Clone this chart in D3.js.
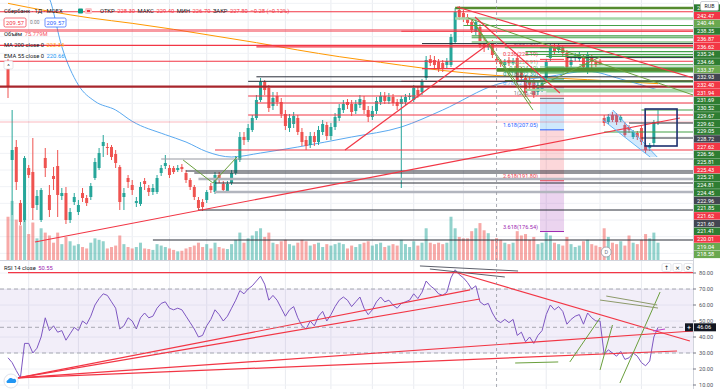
<!DOCTYPE html>
<html>
<head>
<meta charset="utf-8">
<script src="https://cdn.jsdelivr.net/npm/d3@7"></script>
<style>
  body { margin: 0; background: #fff; }
  svg { display: block; font-family: Roboto, "Noto Sans", sans-serif; }
</style>
</head>
<body>
<div id="chart"></div>
<script>
// daily candles, [open, high, low, close]
const candles = [
  [226.2,228.3,216.6,220.2],[198.0,213.0,181.5,201.0],[201.9,204.0,189.0,191.4],[185.1,186.0,178.5,179.4],
  [180.0,199.2,179.4,198.6],[195.6,196.5,192.6,193.5],[194.4,204.6,180.0,183.6],[184.5,189.0,183.0,187.2],
  [180.0,189.6,179.4,189.0],[198.6,201.6,192.9,195.6],[187.5,190.5,180.9,183.0],[193.2,195.9,189.0,192.3],
  [196.2,201.0,180.9,187.5],[187.2,189.6,186.0,188.1],[188.1,189.9,178.8,180.0],[180.0,183.6,179.1,182.4],
  [185.4,188.1,184.5,186.9],[182.4,186.0,181.5,184.5],[188.1,189.6,185.4,186.6],[186.6,187.5,184.2,185.1],
  [186.9,191.1,186.0,190.2],[192.6,198.6,192.0,197.4],[195.6,201.6,195.0,200.1],[202.2,205.5,198.9,203.4],
  [201.9,203.1,199.5,201.6],[201.9,202.5,198.0,198.9],[199.8,201.0,195.6,197.1],[195.9,196.5,183.0,185.4],
  [186.9,189.6,183.0,188.1],[192.6,193.5,189.6,191.4],[190.5,192.0,187.5,189.0],[185.1,186.9,183.9,185.7],
  [184.8,191.4,184.2,189.9],[191.7,192.6,189.0,190.8],[189.6,190.5,187.2,188.4],[188.4,190.8,187.5,189.6],
  [188.4,193.5,187.8,192.6],[194.1,196.5,193.2,195.6],[196.2,199.5,195.3,197.1],[195.6,196.5,192.6,193.5],
  [195.6,196.2,193.8,194.4],[195.0,196.5,194.4,195.6],[195.9,196.8,194.4,195.3],[194.1,195.0,191.1,192.0],
  [192.0,192.6,189.0,189.9],[189.9,190.5,186.0,186.9],[186.0,186.9,183.0,183.6],[185.4,186.3,182.7,183.9],
  [186.0,189.0,185.1,188.4],[190.2,191.1,188.1,189.0],[188.4,194.4,187.8,193.5],[193.5,194.4,191.1,192.0],
  [190.8,191.7,188.1,189.0],[188.7,191.7,188.1,190.8],[191.1,195.0,190.5,194.1],[194.1,199.2,193.5,198.3],
  [198.0,206.4,197.4,204.9],[204.9,206.4,202.5,204.0],[204.0,208.8,203.4,207.6],[207.0,211.5,206.4,210.6],
  [210.6,217.5,210.0,216.0],[216.0,222.6,215.4,221.4],[221.4,222.0,217.5,219.0],[219.6,220.5,212.4,213.6],
  [214.2,218.4,213.0,216.6],[217.2,218.4,214.2,215.4],[215.4,216.6,210.6,211.8],[211.8,213.0,207.0,208.2],
  [207.6,211.8,206.4,210.6],[208.8,212.4,207.6,211.2],[210.6,211.5,205.5,206.4],[206.4,207.6,202.2,203.4],
  [204.0,205.2,201.0,202.2],[202.5,206.4,201.6,205.2],[205.2,206.4,202.2,203.4],[203.4,208.2,202.5,207.0],
  [206.4,210.0,205.5,208.8],[208.5,209.4,204.0,205.2],[205.2,209.1,204.0,207.9],[207.9,212.1,207.0,210.9],
  [210.6,214.8,209.7,213.6],[213.0,216.0,212.1,214.8],[215.4,216.3,213.3,214.5],[214.8,216.0,211.2,212.4],
  [212.7,216.0,211.8,214.8],[214.5,217.5,213.6,216.3],[216.0,217.2,211.8,213.0],[213.0,214.2,209.4,210.9],
  [210.9,214.2,210.0,212.7],[212.7,216.9,211.8,215.7],[215.4,218.4,214.5,217.2],[217.2,218.4,214.8,215.7],
  [215.7,218.1,214.8,216.9],[216.9,217.8,214.2,215.1],[215.4,216.3,213.0,214.2],[214.8,217.2,189.6,216.3],
  [215.4,217.8,214.5,216.9],[216.9,218.1,216.0,217.2],[216.0,220.5,215.4,219.6],[219.0,219.9,216.6,217.5],
  [218.4,222.3,217.5,221.4],[222.6,229.2,222.0,228.0],[228.3,229.5,226.2,227.1],[228.0,229.2,225.6,226.5],
  [227.4,228.3,224.4,225.6],[227.1,228.0,224.4,225.3],[226.5,228.6,225.6,227.7],[226.5,235.8,225.9,234.9],
  [233.4,243.6,232.8,242.4],[243.0,244.2,240.0,240.9],[242.1,243.0,239.4,240.6],[240.9,241.8,238.2,239.1],
  [239.4,240.3,236.1,237.0],[236.4,240.3,235.5,239.4],[237.9,238.8,231.6,232.5],[233.4,234.6,230.4,231.9],
  [231.9,233.4,231.0,232.5],[233.1,234.0,228.6,229.5],[228.3,229.4,226.7,227.8],[227.4,228.3,225.9,226.8],
  [226.5,228.3,225.6,227.4],[228.0,228.9,226.2,227.1],[227.1,228.6,226.5,227.7],[228.6,229.5,220.5,221.4],
  [225.0,225.9,221.4,222.6],[222.6,223.5,216.9,218.1],[222.0,222.9,219.0,220.5],[221.4,222.3,216.6,217.5],
  [218.4,221.4,217.5,220.5],[219.0,222.0,218.4,221.1],[222.6,228.3,221.7,227.4],[228.6,233.1,227.7,231.9],
  [231.9,233.1,229.5,230.4],[231.0,233.4,230.1,232.5],[231.6,232.5,229.2,230.1],[230.1,231.0,225.0,225.9],
  [226.5,229.2,225.9,228.0],[228.6,230.1,227.7,229.4],[228.3,230.4,227.4,229.5],[228.9,229.8,225.0,225.9],
  [225.0,230.4,223.8,229.5],[228.9,229.8,225.6,227.4],[227.4,228.0,225.9,226.5],[227.4,228.3,226.5,226.8],
  [210.6,211.5,208.2,209.1],[209.4,211.8,208.8,210.9],[211.5,212.4,209.4,210.0],[211.5,212.1,208.5,209.4],
  [210.0,211.5,209.4,210.9],[208.5,209.4,204.9,205.5],[207.9,208.5,206.1,207.0],[204.9,207.0,204.3,206.4],
  [206.1,206.7,204.0,204.9],[207.6,208.2,202.5,203.4],[202.5,203.1,200.1,201.0],[201.6,203.1,200.7,202.5],
  [203.1,210.0,202.2,209.4],[209.2,213.0,208.5,209.57]
];

// volume, millions
const volumes = [
  150,205,140,120,160,90,130,75,110,95, 85,60,95,55,80,65,50,55,45,40,
  60,75,70,65,40,45,50,85,55,45, 40,45,60,40,38,35,55,50,45,40,
  35,30,32,40,45,50,60,45,55,40, 60,45,40,38,55,70,95,60,75,85,
  100,110,80,95,60,55,65,70,55,50, 60,70,65,50,55,60,45,55,50,55,
  60,55,40,50,45,55,60,65,50,55, 60,45,50,55,50,70,55,45,65,50,
  60,110,60,55,60,55,60,150,110,80, 75,75,100,110,128,103,93,70,75.779,70,
  60,55,60,100,85,90,70,80,55,60, 95,85,60,55,50,80,55,45,50,65,
  70,55,50,45,110,80,60,55,65,50, 85,60,55,70,90,75,95,60
];

// RSI 14
const rsi = [
  27,24,19,14.5,36,36,30,33,40,52, 44,47,43,44,38,42,46,44,50,48,
  53,60,64,67,66,62,58,45,47,52, 50,45,52,55,52,53,58,61,62,58,
  57,58,57,53,49,45,40,41,47,51, 57,54,50,53,58,63,69,67,70,72,
  75,78,73,63,66,63,58,53,57,59, 52,47,45,50,47,53,56,50,54,59,
  63,65,63,59,62,65,58,54,57,62, 65,62,63,60,58,61,62,63,67,64,
  68,75,72,70,67,66,68,77,82,79, 77,74,70,72,62,60,61,55,50.55,49,
  51,49,51,41,43,37,40,36,41,44, 54,60,57,59,56,48,51,53,54,48,
  55,52,50,50,29,32,30,28,31,26, 27,30,28,24,22,25,40,46
];

// moving averages read at points along the curves: [candle index, value]
const ma200 = [[0,245.0],[10,242.6],[20,240.6],[30,239.0],[40,237.2],[50,235.2],[60,233.2],[70,231.0],
  [80,229.0],[90,227.3],[100,225.6],[110,224.2],[118,223.34],[130,222.7],[140,222.1],[150,221.4],[157,220.9]];
const ema55 = [[8,250],[10,246.5],[13,232],[17,220.5],[21,215.6],[26,213],[30,209.6],[38,205.6],[43,203.4],
  [48,200.5],[54,198.9],[61,200.1],[70,201.9],[83,204.9],[95,207.9],[105,213],[118,220.66],[130,222.9],
  [140,224.6],[148,222.3],[157,219]];

// horizontal price lines with a label on the axis: [price, kind, first candle]
const levels = [
  [243.60,"dg",108],[242.47,"r",0],[240.44,"lg",108],[238.35,"g",110],[236.87,"rl",0],[236.62,"r",95],
  [235.24,"g",112],[234.66,"g",112],[233.37,"lg",112],[232.93,"d",100],[232.40,"r",0],[231.94,"r",60],
  [231.69,"g",120],[230.52,"g",125],[229.67,"g",125],[229.62,"g",130],[229.05,"g",130],[228.72,"d",135],
  [227.62,"r",0],[226.56,"g",138],[225.81,"g",130],[225.43,"r",100],[225.21,"dg",118],[224.81,"dg",118],
  [224.45,"g",120],[222.96,"d",60],[221.85,"g",120],[221.62,"r",95],[221.60,"d",58],[221.41,"g",125],
  [220.01,"rb",0],[219.04,"lg",125],[218.58,"lg",130]
];
// horizontal lines without axis label
const extraLevels = [
  [217.2,"r",58],[215.1,"r",60],[213.0,"g",153],[211.5,"r",58],[209.4,"p",0],[209.1,"d",150],
  [206.4,"g",144],[204.6,"d",153],[201.0,"r",50],[198.3,"gr",37],[194.7,"d",43],[194.1,"d",45],
  [192.3,"gl",46],[191.1,"d",50],[188.4,"gl",50],[183.0,"d",46],[174.0,"d",35]
];

// fib extension
const fibRatios = ["0","0.236","0.382","0.5","0.618","0.786","1","1.618","2.618","3.618"];
const fibPrices = [231.69,228.19,225.91,224.10,222.30,219.70,216.48,207.05,191.80,176.54];
const fibSpan = [128.5, 134.3];

// trend lines on price pane: [idx1, price1, idx2, price2, kind]
const trendLines = [
  [6.5,173.4,162.3,210.6,"r"],
  [108.5,243.9,165.5,222.6,"r"],
  [111.1,240.6,165.5,217.5,"g"],
  [112.8,240.9,133.3,218.1,"r"],
  [112.1,240.0,126.3,215.1,"g"],
  [112.8,238.5,126.8,213.0,"g"],
  [81.4,201.0,116.4,233.1,"r"],
  [42.3,198.0,49.5,191.1,"g"],
  [49.5,191.1,55.3,198.9,"g"],
  [127.8,219.9,143.0,228.9,"g"],
  [146.1,213.0,156.8,198.9,"b"],
  [143.7,210.0,155.1,198.9,"b"]
];
const wedge = [[146.1,213.0],[156.8,198.9],[155.1,198.9],[143.7,210.0]];
const box = [153.9,213.3,161.6,202.2];

// lines on RSI pane: [idx1, rsi1, idx2, rsi2, kind]
const rsiLines = [
  [0,80.2,170,80.2,"r"],
  [2.4,14.4,111.6,69.4,"r"],
  [2.4,14.4,114,63.75,"r"],
  [2.4,14.4,165.5,43.75,"r"],
  [2.4,14.4,161.6,31.25,"r"],
  [108,80.6,164.7,37.5,"r"],
  [99.5,84.4,123.2,81.25,"d"],
  [101.9,82.5,120,77.5,"d"],
  [122.5,23.75,132.9,24.4,"g"],
  [135.7,24.4,143,51.9,"g"],
  [143,19.4,146,47.5,"g"],
  [147.8,11.25,157.5,68.1,"g"],
  [143,63.1,157,58.1,"o"],
  [144.5,65.6,156.8,60,"o"],
  [155.8,43.75,158.7,45,"m"]
];

const gridIdx = [5,17,30,39,48,58,67,78,88,98,110,130,143,153];
const rsiTicks = [80,70,60,50,40,30,20,10];
const crossIdx = 118;
const crossRsi = 46.06;
const lastPrice = 209.57;
const dividendIdx = 144;
const changeText = "−0.28 (−0.12%)";

// ---- layout ----
const W = 720, H = 389;
const plotR = 693, mainB = 260, rsiT = 261;

const x = d3.scaleLinear().domain([0, 157]).range([8, 658]);
const yP = d3.scaleLinear().domain([167.4, 246]).range([262, 0]);
const yV = d3.scaleLinear().domain([0, 215]).range([mainB, mainB - 62]);
const yR = d3.scaleLinear().domain([10, 80]).range([385, 273]);

const up = "#26a69a", dn = "#ef5350";
const kindStyle = {
  r: { c: "#f23645", w: 1.2 }, rl: { c: "rgba(242,54,69,0.5)", w: 3 }, rb: { c: "#a8262c", w: 2.2 },
  p: { c: "rgba(242,54,69,0.35)", w: 1 }, g: { c: "#43a047", w: 1.1 }, dg: { c: "#558b2f", w: 2.4 },
  lg: { c: "#a5d6a7", w: 2.4 }, d: { c: "#2a2e39", w: 1 }, gr: { c: "#9598a1", w: 1 }, gl: { c: "#b2b5be", w: 2.4 }
};
const labelFill = { r: "#f23645", rl: "#f23645", rb: "#f23645", g: "#2e7d32", dg: "#2e7d32", lg: "#6aa84f", d: "#434651" };
const lineColor = { r: "#f23645", g: "#6a9f3c", b: "#64b5f6", d: "#5d606b", o: "#8d9a6a", m: "#c040c8" };

const svg = d3.select("#chart").append("svg").attr("width", W).attr("height", H);
const defs = svg.append("defs");
defs.append("clipPath").attr("id", "clipMain").append("rect")
  .attr("x", 0).attr("y", 0).attr("width", plotR).attr("height", mainB);
defs.append("clipPath").attr("id", "clipRsi").append("rect")
  .attr("x", 0).attr("y", rsiT).attr("width", plotR).attr("height", H - rsiT);

// ---- price pane ----
const main = svg.append("g").attr("clip-path", "url(#clipMain)");

main.selectAll("line.vg").data(gridIdx).join("line").attr("class", "vg")
  .attr("x1", d => x(d)).attr("x2", d => x(d)).attr("y1", 0).attr("y2", mainB)
  .attr("stroke", "#e9ebf0");
main.selectAll("line.hg").data(d3.range(170, 246, 5)).join("line").attr("class", "hg")
  .attr("x1", 0).attr("x2", plotR).attr("y1", d => yP(d)).attr("y2", d => yP(d))
  .attr("stroke", "#f0f2f6");

main.selectAll("rect.vol").data(volumes).join("rect").attr("class", "vol")
  .attr("x", (d, i) => x(i) - 1.5).attr("width", 3)
  .attr("y", d => yV(d)).attr("height", d => mainB - yV(d))
  .attr("fill", (d, i) => candles[i][3] >= candles[i][0] ? "rgba(38,166,154,0.5)" : "rgba(239,83,80,0.5)");

const maLine = d3.line().x(d => x(d[0])).y(d => yP(d[1])).curve(d3.curveMonotoneX);
main.append("path").datum(ma200).attr("d", maLine)
  .attr("fill", "none").attr("stroke", "#ff9800").attr("stroke-width", 1);
main.append("path").datum(ema55).attr("d", maLine)
  .attr("fill", "none").attr("stroke", "#5aa9f0").attr("stroke-width", 1);

main.selectAll("line.wick").data(candles).join("line").attr("class", "wick")
  .attr("x1", (d, i) => x(i)).attr("x2", (d, i) => x(i))
  .attr("y1", d => yP(d[1])).attr("y2", d => yP(d[2]))
  .attr("stroke", d => d[3] >= d[0] ? up : dn).attr("stroke-width", 1);
main.selectAll("rect.body").data(candles).join("rect").attr("class", "body")
  .attr("x", (d, i) => x(i) - 1.5).attr("width", 3)
  .attr("y", d => yP(Math.max(d[0], d[3])))
  .attr("height", d => Math.max(1, Math.abs(yP(d[0]) - yP(d[3]))))
  .attr("fill", d => d[3] >= d[0] ? up : dn);

// fib extension fills, lines and labels
const fibFill = { 5: "rgba(120,123,134,0.15)", 6: "rgba(33,150,243,0.22)", 7: "rgba(242,54,69,0.2)", 8: "rgba(156,39,176,0.2)" };
const fibColor = ["#787b86","#f23645","#81c784","#4caf50","#089981","#64b5f6","#787b86","#2962ff","#f23645","#9c27b0"];
const fx0 = x(fibSpan[0]), fx1 = x(fibSpan[1]);
Object.keys(fibFill).forEach(k => {
  k = +k;
  main.append("rect").attr("x", fx0).attr("width", fx1 - fx0)
    .attr("y", yP(fibPrices[k])).attr("height", yP(fibPrices[k + 1]) - yP(fibPrices[k]))
    .attr("fill", fibFill[k]);
});
main.selectAll("line.fib").data(fibPrices).join("line").attr("class", "fib")
  .attr("x1", fx0).attr("x2", fx1).attr("y1", d => yP(d)).attr("y2", d => yP(d))
  .attr("stroke", (d, i) => fibColor[i]).attr("stroke-width", 1);
main.selectAll("text.fib").data(fibPrices).join("text").attr("class", "fib")
  .attr("x", fx0 - 2).attr("y", d => yP(d) - 3).attr("text-anchor", "end")
  .attr("font-size", 5.6).attr("fill", (d, i) => fibColor[i])
  .text((d, i) => `${fibRatios[i]}(${d.toFixed(2)})`);

// horizontal drawings
const allLevels = levels.concat(extraLevels);
main.selectAll("line.lvl").data(allLevels).join("line").attr("class", "lvl")
  .attr("x1", d => x(d[2]) - (d[2] === 0 ? 10 : 0)).attr("x2", plotR)
  .attr("y1", d => yP(d[0])).attr("y2", d => yP(d[0]))
  .attr("stroke", d => kindStyle[d[1]].c).attr("stroke-width", d => kindStyle[d[1]].w);

// wedge, trend lines, box
main.append("polygon")
  .attr("points", wedge.map(d => [x(d[0]), yP(d[1])].join(",")).join(" "))
  .attr("fill", "rgba(33,150,243,0.2)");
main.selectAll("line.tl").data(trendLines).join("line").attr("class", "tl")
  .attr("x1", d => x(d[0])).attr("y1", d => yP(d[1]))
  .attr("x2", d => x(d[2])).attr("y2", d => yP(d[3]))
  .attr("stroke", d => lineColor[d[4]]).attr("stroke-width", d => d[4] === "r" ? 1.2 : 1);
main.append("rect")
  .attr("x", x(box[0])).attr("y", yP(box[1]))
  .attr("width", x(box[2]) - x(box[0])).attr("height", yP(box[3]) - yP(box[1]))
  .attr("fill", "none").attr("stroke", "#1c2f6e").attr("stroke-width", 1.6);

// dividend marker
const dv = main.append("g").attr("transform", `translate(${x(dividendIdx) + 2},${mainB - 8})`);
dv.append("circle").attr("r", 5).attr("fill", "#fff").attr("stroke", "#9598a1").attr("stroke-width", 0.8);
dv.append("text").attr("text-anchor", "middle").attr("dy", "0.35em")
  .attr("font-size", 5.5).attr("fill", "#787b86").text("D");

// ---- RSI pane ----
const rp = svg.append("g").attr("clip-path", "url(#clipRsi)");
rp.selectAll("line.vg").data(gridIdx).join("line").attr("class", "vg")
  .attr("x1", d => x(d)).attr("x2", d => x(d)).attr("y1", rsiT).attr("y2", H)
  .attr("stroke", "#e9ebf0");
rp.selectAll("line.hg").data(rsiTicks).join("line").attr("class", "hg")
  .attr("x1", 0).attr("x2", plotR).attr("y1", d => yR(d)).attr("y2", d => yR(d))
  .attr("stroke", "#f0f2f6");
rp.append("rect").attr("x", 0).attr("width", plotR)
  .attr("y", yR(70)).attr("height", yR(30) - yR(70)).attr("fill", "rgba(126,87,194,0.1)");
rp.selectAll("line.band").data([70, 30]).join("line").attr("class", "band")
  .attr("x1", 0).attr("x2", plotR).attr("y1", d => yR(d)).attr("y2", d => yR(d))
  .attr("stroke", "#9598a1").attr("stroke-dasharray", "4,3").attr("stroke-width", 0.8);
rp.append("path").datum(rsi)
  .attr("d", d3.line().x((d, i) => x(i)).y(d => yR(d)))
  .attr("fill", "none").attr("stroke", "#7e57c2").attr("stroke-width", 1);
rp.selectAll("line.rl").data(rsiLines).join("line").attr("class", "rl")
  .attr("x1", d => x(d[0])).attr("y1", d => yR(d[1]))
  .attr("x2", d => x(d[2])).attr("y2", d => yR(d[3]))
  .attr("stroke", d => lineColor[d[4]]).attr("stroke-width", d => d[4] === "r" ? 1.2 : 1);
rp.append("line").attr("x1", 0).attr("x2", plotR)
  .attr("y1", yR(crossRsi)).attr("y2", yR(crossRsi))
  .attr("stroke", "#9598a1").attr("stroke-dasharray", "4,3").attr("stroke-width", 0.8);

// pane separator and crosshair
svg.append("line").attr("x1", 0).attr("x2", W).attr("y1", mainB + 0.5).attr("y2", mainB + 0.5)
  .attr("stroke", "#d1d4dc");
svg.append("line").attr("x1", x(crossIdx)).attr("x2", x(crossIdx)).attr("y1", 0).attr("y2", H)
  .attr("stroke", "#9598a1").attr("stroke-dasharray", "3,3").attr("stroke-width", 0.8);

// ---- price axis ----
svg.append("rect").attr("x", plotR).attr("y", 0).attr("width", W - plotR).attr("height", H).attr("fill", "#fff");
svg.append("line").attr("x1", plotR + 0.5).attr("x2", plotR + 0.5).attr("y1", 0).attr("y2", H)
  .attr("stroke", "#d1d4dc");

const lblH = 7.7;
const rubBox = { y0: 1.5, y1: 10.5 };
const sorted = levels.slice().sort((a, b) => b[0] - a[0]);
let prev = -Infinity;
const placed = sorted.map(d => {
  const cy = Math.max(yP(d[0]), prev + lblH, lblH / 2);
  prev = cy;
  // a label sitting under the currency badge only shows its first digit
  const hidden = cy - lblH / 2 < rubBox.y1;
  return { p: d[0], k: d[1], cy, t: hidden ? d[0].toFixed(2).slice(0, 1) : d[0].toFixed(2) };
});
const ax = svg.append("g");
ax.selectAll("rect.lb").data(placed).join("rect").attr("class", "lb")
  .attr("x", plotR + 1).attr("width", W - plotR - 1)
  .attr("y", d => d.cy - lblH / 2 + 0.15).attr("height", lblH - 0.3)
  .attr("fill", d => labelFill[d.k]);
ax.selectAll("text.lb").data(placed).join("text").attr("class", "lb")
  .attr("x", plotR + 4).attr("y", d => d.cy).attr("dy", "0.36em")
  .attr("font-size", 5.6).attr("fill", "#fff").text(d => d.t);

ax.append("rect").attr("x", 700.5).attr("y", rubBox.y0).attr("width", 18).attr("height", rubBox.y1 - rubBox.y0).attr("rx", 1.5)
  .attr("fill", "#fff").attr("stroke", "#b2b5be").attr("stroke-width", 0.6);
ax.append("text").attr("x", 709.5).attr("y", 6).attr("dy", "0.35em").attr("text-anchor", "middle")
  .attr("font-size", 5.2).attr("fill", "#131722").text("RUB");

// RSI axis
ax.selectAll("line.rt").data(rsiTicks).join("line").attr("class", "rt")
  .attr("x1", plotR).attr("x2", plotR + 3).attr("y1", d => yR(d)).attr("y2", d => yR(d))
  .attr("stroke", "#787b86");
ax.selectAll("text.rt").data(rsiTicks).join("text").attr("class", "rt")
  .attr("x", plotR + 6).attr("y", d => yR(d)).attr("dy", "0.35em")
  .attr("font-size", 5.6).attr("fill", "#50535e").text(d => d.toFixed(2));
ax.append("rect").attr("x", plotR + 1).attr("y", yR(crossRsi) - 4).attr("width", 22).attr("height", 8)
  .attr("fill", "#131722");
ax.append("text").attr("x", plotR + 4).attr("y", yR(crossRsi)).attr("dy", "0.35em")
  .attr("font-size", 5.6).attr("fill", "#fff").text(crossRsi.toFixed(2));
ax.append("rect").attr("x", plotR - 8).attr("y", yR(crossRsi) - 4).attr("width", 8).attr("height", 8)
  .attr("fill", "#131722");
ax.append("text").attr("x", plotR - 4).attr("y", yR(crossRsi)).attr("dy", "0.35em").attr("text-anchor", "middle")
  .attr("font-size", 7).attr("fill", "#fff").text("+");

// RSI pane buttons
["↑", "×", "⟳"].forEach((s, i) => {
  const bx = 662 + i * 11;
  svg.append("rect").attr("x", bx).attr("y", 263.5).attr("width", 9).attr("height", 8).attr("rx", 1.5)
    .attr("fill", "#fff").attr("stroke", "#d1d4dc").attr("stroke-width", 0.6);
  svg.append("text").attr("x", bx + 4.5).attr("y", 267.5).attr("dy", "0.35em").attr("text-anchor", "middle")
    .attr("font-family", "DejaVu Sans").attr("font-size", 6).attr("fill", "#131722").text(s);
});

// ---- legends ----
const fs = 5.8;
const leg = svg.append("g").attr("font-size", fs);
function run(g, x0, y, parts) {
  let cx = x0;
  parts.forEach(([t, c]) => {
    const el = g.append("text").attr("x", cx).attr("y", y).attr("dy", "0.35em").attr("fill", c).text(t);
    cx += el.node().getComputedTextLength() + 2.5;
  });
  return cx;
}
const cc = candles[crossIdx];
run(leg, 4, 11, [["Сбербанк · 1Д · MOEX", "#131722"]]);
leg.append("rect").attr("x", 78).attr("y", 8.5).attr("width", 5).attr("height", 5).attr("rx", 1).attr("fill", "#089981");
leg.append("rect").attr("x", 85).attr("y", 8).attr("width", 7).attr("height", 6).attr("rx", 1.5).attr("fill", "#f9c5c9");
leg.append("rect").attr("x", 87).attr("y", 10).attr("width", 3).attr("height", 2).attr("fill", "#f23645");
const red = "#f23645";
run(leg, 100, 11, [["ОТКР", "#131722"], [cc[0].toFixed(2), red], ["МАКС", "#131722"], [cc[1].toFixed(2), red],
  ["МИН", "#131722"], [cc[2].toFixed(2), red], ["ЗАКР", "#131722"], [cc[3].toFixed(2), red], [changeText, red]]);

leg.append("rect").attr("x", 4).attr("y", 18).attr("width", 22).attr("height", 9).attr("rx", 1.5)
  .attr("fill", "#fff").attr("stroke", red).attr("stroke-width", 0.7);
leg.append("text").attr("x", 15).attr("y", 22.5).attr("dy", "0.35em").attr("text-anchor", "middle")
  .attr("fill", red).text(lastPrice.toFixed(2));
leg.append("text").attr("x", 30).attr("y", 22.5).attr("dy", "0.35em").attr("fill", "#787b86")
  .attr("font-size", 4.8).text("0.00");
leg.append("rect").attr("x", 45).attr("y", 18).attr("width", 21).attr("height", 9).attr("rx", 1.5)
  .attr("fill", "#fff").attr("stroke", "#2962ff").attr("stroke-width", 0.7);
leg.append("text").attr("x", 55.5).attr("y", 22.5).attr("dy", "0.35em").attr("text-anchor", "middle")
  .attr("fill", "#2962ff").text(lastPrice.toFixed(2));

run(leg, 4, 34, [["Объём", "#131722"], [volumes[crossIdx].toFixed(3) + "M", "#f7525f"]]);
run(leg, 4, 45, [["MA 200 close 0", "#131722"], ["223.34", "#ff9800"]]);
run(leg, 4, 55.5, [["EMA 55 close 0", "#131722"], [ema55.find(d => d[0] === crossIdx)[1].toFixed(2), "#2196f3"]]);
leg.append("rect").attr("x", 4).attr("y", 61).attr("width", 9).attr("height", 8).attr("rx", 1.5)
  .attr("fill", "#fff").attr("stroke", "#d1d4dc").attr("stroke-width", 0.6);
leg.append("text").attr("x", 8.5).attr("y", 66).attr("dy", "0.35em").attr("text-anchor", "middle")
  .attr("fill", "#131722").attr("font-size", 6).text("^");

run(leg, 4, 268, [["RSI 14 close", "#131722"], [rsi[crossIdx].toFixed(2), "#9c27b0"]]);

// bottom-left icon
const ic = svg.append("g").attr("transform", "translate(11,381)");
ic.append("circle").attr("r", 7).attr("fill", "#fff").attr("stroke", "#e0e3eb");
ic.append("path").attr("d", "M-4,2 a2,2 0 0 1 1,-3 a3,3 0 0 1 5,-1 a2,2 0 0 1 2,4 z").attr("fill", "#2196f3");
</script>
</body>
</html>
